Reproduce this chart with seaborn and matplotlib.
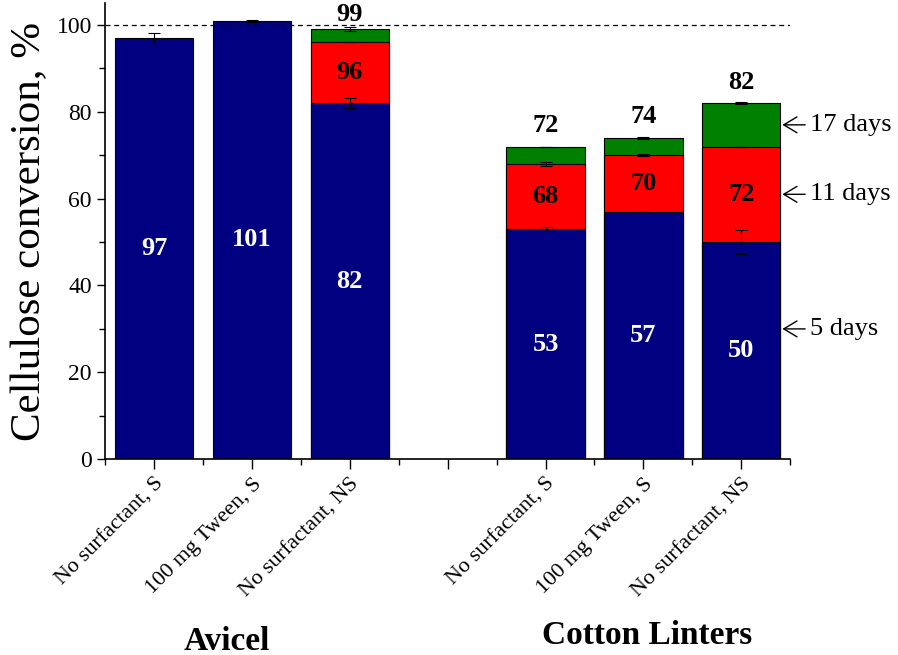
import numpy as np
import pandas as pd
import matplotlib
matplotlib.use("Agg")
import matplotlib.pyplot as plt
from matplotlib.ticker import MultipleLocator, FixedLocator
import seaborn as sns

# slots along the x axis (one empty slot between the two substrates)
slots = ["A1", "A2", "A3", "gap", "C1", "C2", "C3"]
tick_labels = ["No surfactant, S", "100 mg Tween, S", "No surfactant, NS", "",
               "No surfactant, S", "100 mg Tween, S", "No surfactant, NS"]
bar_slots = ["A1", "A2", "A3", "C1", "C2", "C3"]

# cumulative conversion, %
day5 = [97, 101, 82, 53, 57, 50]
day11 = [np.nan, np.nan, 96, 68, 70, 72]
day17 = [np.nan, np.nan, 99, 72, 74, 82]
err5 = [1.2, 0.2, 1.2, 0.5, 0.0, 2.8]
err11 = [np.nan, np.nan, 0.0, 0.4, 0.2, 0.0]
err17 = [np.nan, np.nan, 0.5, 0.0, 0.2, 0.2]

day_labels = ["17 days", "11 days", "5 days"]
day_levels = [77, 61, 30]

df = pd.DataFrame({"slot": bar_slots, "d5": day5, "d11": day11, "d17": day17,
                   "e5": err5, "e11": err11, "e17": err17})

sns.set_style("ticks")
plt.rcParams["font.family"] = ["Liberation Serif", "DejaVu Serif"]
plt.rcParams["text.color"] = "black"
plt.rcParams["xtick.color"] = "black"
plt.rcParams["ytick.color"] = "black"
plt.rcParams["axes.labelcolor"] = "black"
plt.rcParams["axes.edgecolor"] = "black"

fig = plt.figure(figsize=(8.98, 6.55), dpi=100)
ax = fig.add_axes([0.117, 0.299, 0.763, 0.696])

layers = [("d17", "e17", "#008000"), ("d11", "e11", "#ff0000"), ("d5", "e5", "#000080")]
for col, ecol, color in layers:
    sub = df.dropna(subset=[col])
    sns.barplot(data=sub, x="slot", y=col, order=slots, color=color,
                width=0.8, edgecolor="black", linewidth=0.8, saturation=1,
                errorbar=None, ax=ax)

# error bars on each segment top
for col, ecol, color in layers:
    sub = df.dropna(subset=[col])
    xs = [slots.index(s) for s in sub["slot"]]
    ax.errorbar(xs, sub[col], yerr=sub[ecol], fmt="none", ecolor="black",
                elinewidth=0.8, capsize=4, capthick=0.8, zorder=5)

# value labels
for i, row in df.iterrows():
    x = slots.index(row["slot"])
    ax.text(x, row["d5"] / 2, f"{row['d5']:.0f}", color="white", fontsize=19,
            fontweight="bold", ha="center", va="center", zorder=6)
    if not np.isnan(row["d11"]):
        ax.text(x, (row["d5"] + row["d11"]) / 2, f"{row['d11']:.0f}", color="black",
                fontsize=19, fontweight="bold", ha="center", va="center", zorder=6)
    if not np.isnan(row["d17"]):
        ax.text(x, min(row["d17"] + 2.2, 99.8), f"{row['d17']:.0f}", color="black",
                fontsize=19, fontweight="bold", ha="center", va="bottom", zorder=6)

ax.axhline(100, color="black", linestyle=(0, (4, 3)), linewidth=0.9, zorder=1)

ax.set_xlim(-0.5, 6.5)
ax.set_ylim(0, 105)
ax.yaxis.set_major_locator(MultipleLocator(20))
ax.yaxis.set_minor_locator(MultipleLocator(10))
ax.set_xticks(range(len(slots)))
ax.set_xticklabels(tick_labels, rotation=45, ha="right", rotation_mode="anchor",
                   fontsize=16)
ax.xaxis.set_minor_locator(FixedLocator(np.arange(-0.5, 7, 1)))
ax.tick_params(axis="y", labelsize=17, length=6, width=1)
ax.tick_params(axis="x", length=7, width=1, pad=4)
ax.tick_params(which="minor", length=4, width=1)
ax.set_xlabel("")
ax.set_ylabel("Cellulose conversion, %", fontsize=31, labelpad=5)
sns.despine(ax=ax)
for sp in ["left", "bottom"]:
    ax.spines[sp].set_linewidth(1.2)

# day markers at the right of the last bar
for lab, lev in zip(day_labels, day_levels):
    ax.annotate(lab, xy=(6.42, lev), xytext=(6.7, lev), textcoords="data",
                fontsize=19, ha="left", va="center",
                arrowprops=dict(arrowstyle="->,head_length=0.5,head_width=0.3",
                                color="black", lw=1, shrinkA=1, shrinkB=0),
                annotation_clip=False)

# substrate group names
fig.text(227 / 898, 1 - 641 / 655, "Avicel", fontsize=24, fontweight="bold",
         ha="center", va="center")
fig.text(647 / 898, 1 - 635 / 655, "Cotton Linters", fontsize=24, fontweight="bold",
         ha="center", va="center")

plt.savefig("out.png", dpi=100)
